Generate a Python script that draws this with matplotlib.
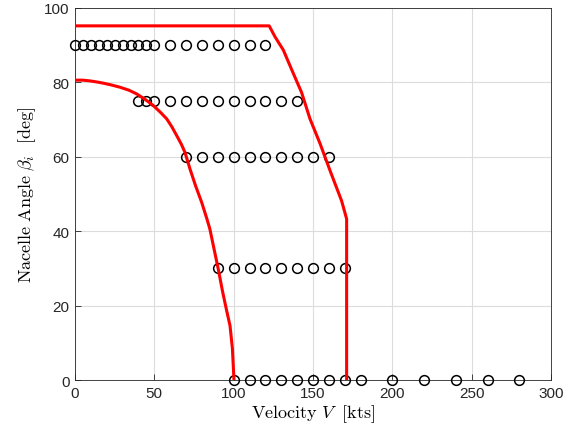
import matplotlib.pyplot as plt
import numpy as np

plt.rcParams['mathtext.fontset'] = 'cm'
plt.rcParams['font.family'] = ['Liberation Sans', 'DejaVu Sans']

# sample points (velocity, nacelle angle)
v_90 = [0, 5, 10, 15, 20, 25, 30, 35, 40, 45, 50, 60, 70, 80, 90, 100, 110, 120]
v_75 = [40, 45, 50, 60, 70, 80, 90, 100, 110, 120, 130, 140]
v_60 = [70, 80, 90, 100, 110, 120, 130, 140, 150, 160]
v_30 = [90, 100, 110, 120, 130, 140, 150, 160, 170]
v_0 = [100, 110, 120, 130, 140, 150, 160, 170, 180, 200, 220, 240, 260, 280]

# lower boundary (left red curve)
low_v = [0, 5, 9.5, 14, 17.8, 23, 28.4, 34, 38.9, 44, 49.3, 54, 57.8, 61, 64.1, 67, 69.3,
         72.5, 76, 79.8, 83, 85, 87.5, 90.3, 93, 95.5, 97.7, 99.2, 100.2]
low_b = [80.6, 80.6, 80.4, 80.1, 79.8, 79.3, 78.7, 77.9, 76.9, 75.5, 73.8, 71.9, 70.2, 68.1,
         65.7, 63.4, 61.2, 56.7, 52.2, 47.8, 43.5, 40.6, 35.5, 29.8, 23.8, 18.8, 14.6, 8.5, 0]

# upper boundary (right red curve)
up_v = [0, 122.4, 126, 131.3, 137, 142.8, 148.1, 154.5, 161, 168, 171.2, 171.2]
up_b = [95.2, 95.2, 92.3, 88.7, 83.0, 77.3, 70.2, 63.5, 56.0, 48.2, 43.3, 0]

fig = plt.figure(figsize=(5.66, 4.39), dpi=100)
ax = fig.add_axes([0.1325, 0.1321, 0.841, 0.8474])

for vs, b in [(v_90, 90), (v_75, 75), (v_60, 60), (v_30, 30), (v_0, 0)]:
    ax.plot(vs, [b] * len(vs), 'o', mfc='none', mec='k', ms=7, mew=1.1, clip_on=False, zorder=3)

ax.plot(low_v, low_b, color='red', lw=2.2, zorder=4)
ax.plot(up_v, up_b, color='red', lw=2.2, zorder=4)

ax.set_xlim(0, 300)
ax.set_ylim(0, 100)
ax.set_xticks(np.arange(0, 301, 50))
ax.set_yticks(np.arange(0, 101, 20))
ax.grid(True, color='#dcdcdc', lw=0.8)
ax.set_axisbelow(True)
ax.tick_params(direction='in', length=4, width=0.6, labelsize=11, colors='#262626', pad=4)
for s in ax.spines.values():
    s.set_color('#262626')
    s.set_linewidth(0.6)

ax.set_xlabel(r'$\mathrm{Velocity}\ V\;\ \mathrm{[kts]}$', fontsize=13, labelpad=2)
ax.set_ylabel(r'$\mathrm{Nacelle\ Angle}\ \beta_i\ \ \mathrm{[deg]}$', fontsize=13, labelpad=4)

fig.savefig('out.png', dpi=100)
